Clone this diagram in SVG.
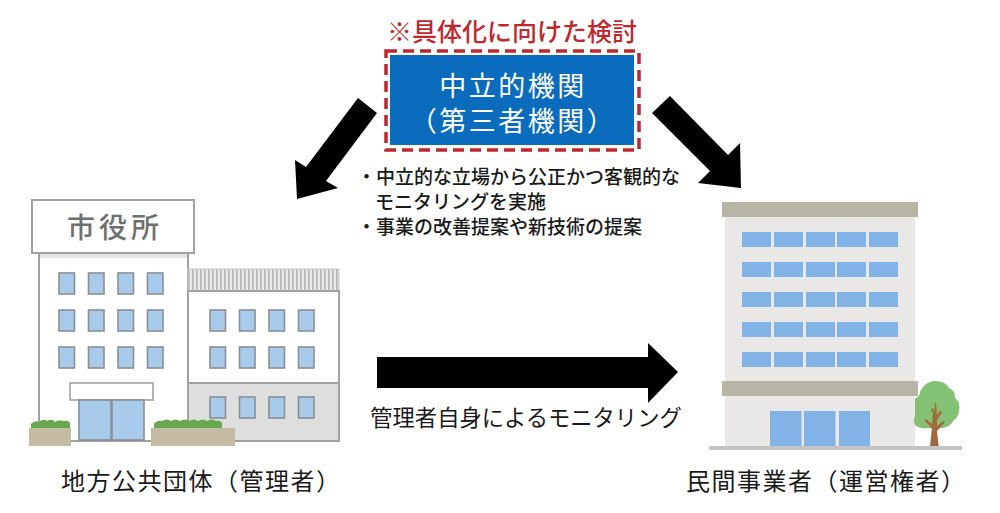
<svg xmlns="http://www.w3.org/2000/svg" width="1000" height="513" viewBox="0 0 1000 513">
<style>
text{font-family:"Noto Sans CJK JP","Noto Sans CJK SC",sans-serif}
.t{font-family:"Liberation Sans","Noto Sans CJK JP","Noto Sans CJK SC",sans-serif}
.k{fill:#1a1a1a}
.w{fill:#a9cbeb;stroke:#8a8f94;stroke-width:1.6}
.g{fill:#82b3e6}
.b{fill:#b8b5a7}
.p{fill:#c4bca2}
.l{fill:#6aa84f}
.s{stroke:#a2a2a2;stroke-width:2}
</style>
<defs>
<pattern id="st" width="4" height="22" patternUnits="userSpaceOnUse"><rect width="4" height="22" fill="#e8e8e8"/><rect width="1.6" height="22" fill="#b5b5b5"/></pattern>
<rect id="lw" class="w" width="15.5" height="21"/>
<rect id="rw" class="g" width="29" height="15"/>
</defs>
<rect width="1000" height="513" fill="#fff"/>
<g id="connectors" fill="#000">
<polygon id="arrow-left" points="358,98 377,113 326,181 338,188 297,199 295,160 306,167"/>
<polygon id="arrow-right" points="670,96 652,113 710,171 698,183 741,188 740,143 728,155"/>
<polygon id="arrow-bottom" points="377,357 648,357 648,343 678,372 648,403 648,388 377,388"/>
</g>
<g id="neutral-body">
<text x="512" y="41" text-anchor="middle" font-size="25" font-weight="500" fill="#c0272d">※具体化に向けた検討</text>
<rect x="386" y="51" width="253" height="99" fill="none" stroke="#c0272d" stroke-width="3.500" stroke-dasharray="11 6"/>
<rect x="390" y="55" width="244" height="90" fill="#0b6cbd"/>
<text class="t" x="513" y="96" text-anchor="middle" font-size="27" letter-spacing="2.500" fill="#fff">中立的機関</text>
<text class="t" x="513" y="131" text-anchor="middle" font-size="27" letter-spacing="2.500" fill="#fff">（第三者機関）</text>
</g>
<g id="description" font-size="19" font-weight="500" class="k">
<text x="357" y="184">・中立的な立場から公正かつ客観的な</text>
<text x="375" y="209">モニタリングを実施</text>
<text x="357" y="234">・事業の改善提案や新技術の提案</text>
</g>
<g id="city-hall">
<rect class="s" x="39" y="253" width="149" height="188" fill="#fff"/>
<rect x="40" y="254" width="147" height="4" fill="#e6e6e6"/>
<rect x="188" y="269" width="151" height="22" fill="url(#st)" stroke="#c4c4c4" stroke-width="1"/>
<rect class="s" x="188" y="291" width="151" height="92" fill="#fff"/>
<rect class="s" x="188" y="383" width="151" height="58" fill="#dedede"/>
<rect x="32" y="200" width="162" height="53" fill="#fff" stroke="#a2a2a2" stroke-width="2"/>
<text x="115" y="238" text-anchor="middle" font-size="28" font-weight="500" letter-spacing="4" fill="#6f6f6f">市役所</text>
<use href="#lw" x="59" y="273"/><use href="#lw" x="88.500" y="273"/><use href="#lw" x="118" y="273"/><use href="#lw" x="147.500" y="273"/>
<use href="#lw" x="59" y="310"/><use href="#lw" x="88.500" y="310"/><use href="#lw" x="118" y="310"/><use href="#lw" x="147.500" y="310"/>
<use href="#lw" x="59" y="347"/><use href="#lw" x="88.500" y="347"/><use href="#lw" x="118" y="347"/><use href="#lw" x="147.500" y="347"/>
<use href="#lw" x="210" y="310"/><use href="#lw" x="239.500" y="310"/><use href="#lw" x="269" y="310"/><use href="#lw" x="298.500" y="310"/>
<use href="#lw" x="210" y="347"/><use href="#lw" x="239.500" y="347"/><use href="#lw" x="269" y="347"/><use href="#lw" x="298.500" y="347"/>
<use href="#lw" x="210" y="397"/><use href="#lw" x="239.500" y="397"/><use href="#lw" x="269" y="397"/><use href="#lw" x="298.500" y="397"/>
<rect x="70" y="383" width="83" height="17" fill="#fff" stroke="#a2a2a2" stroke-width="1.600"/>
<rect x="79" y="400" width="32" height="40" fill="#a9cbeb" stroke="#8a8f94" stroke-width="1.600"/>
<rect x="112" y="400" width="32" height="40" fill="#a9cbeb" stroke="#8a8f94" stroke-width="1.600"/>
<path class="l" d="M31,429v-5q4-4,8-2q4-4,8,-1q5-3,8,1q4-3,8,-1q7,-1,7,3v5z"/>
<path class="l" d="M154,429v-5q3-4,8-3q5-3,9,0q5-3,9,0q5-3,9,0q5-3,9,0q5-3,9,0q5-3,9,0q6,-1,6,3v5z"/>
<rect class="p" x="29" y="428" width="42" height="18"/>
<rect class="p" x="151" y="428" width="84" height="18"/>
</g>
<g id="private-building">
<rect x="725" y="217" width="190" height="230" fill="#e9e8e6"/>
<rect class="b" x="722" y="202" width="196" height="15"/>
<rect class="b" x="722" y="381" width="196" height="15"/>
<use href="#rw" x="742" y="232"/><use href="#rw" x="774" y="232"/><use href="#rw" x="806" y="232"/><use href="#rw" x="837" y="232"/><use href="#rw" x="869" y="232"/>
<use href="#rw" x="742" y="262"/><use href="#rw" x="774" y="262"/><use href="#rw" x="806" y="262"/><use href="#rw" x="837" y="262"/><use href="#rw" x="869" y="262"/>
<use href="#rw" x="742" y="292"/><use href="#rw" x="774" y="292"/><use href="#rw" x="806" y="292"/><use href="#rw" x="837" y="292"/><use href="#rw" x="869" y="292"/>
<use href="#rw" x="742" y="322"/><use href="#rw" x="774" y="322"/><use href="#rw" x="806" y="322"/><use href="#rw" x="837" y="322"/><use href="#rw" x="869" y="322"/>
<use href="#rw" x="742" y="352"/><use href="#rw" x="774" y="352"/><use href="#rw" x="806" y="352"/><use href="#rw" x="837" y="352"/><use href="#rw" x="869" y="352"/>
<rect class="g" x="770" y="411" width="31.500" height="36"/><rect class="g" x="804" y="411" width="31.500" height="36"/><rect class="g" x="839" y="411" width="31" height="36"/>
<path fill="#83c272" d="M915,425q-2-4,0-9v-17q3-3,4-3q2-12,14-15q12-1,16,7q6,2,6,10q6,4,4,13q-1,7-6,10q-3,7-12,7q-6,2-13,0q-8,1-13-3z"/>
<path fill="#a3693c" d="M930,446l2-18-7-7 1-2 6,5 1-10-2-5 2-1 1,6 1-11 1,0 1,12 3-4 2,1-5,8 0,6 6-5 2,1-8,9 2,18z"/>
<rect x="709" y="446" width="253" height="4" fill="#c4c4c4"/>
</g>
<g id="labels" class="k">
<text x="526" y="426" text-anchor="middle" font-size="22.300">管理者自身によるモニタリング</text>
<text x="61" y="490" font-size="24" letter-spacing="1.500">地方公共団体（管理者）</text>
<text x="686" y="490" font-size="24" letter-spacing="1.500">民間事業者（運営権者）</text>
</g>
</svg>
